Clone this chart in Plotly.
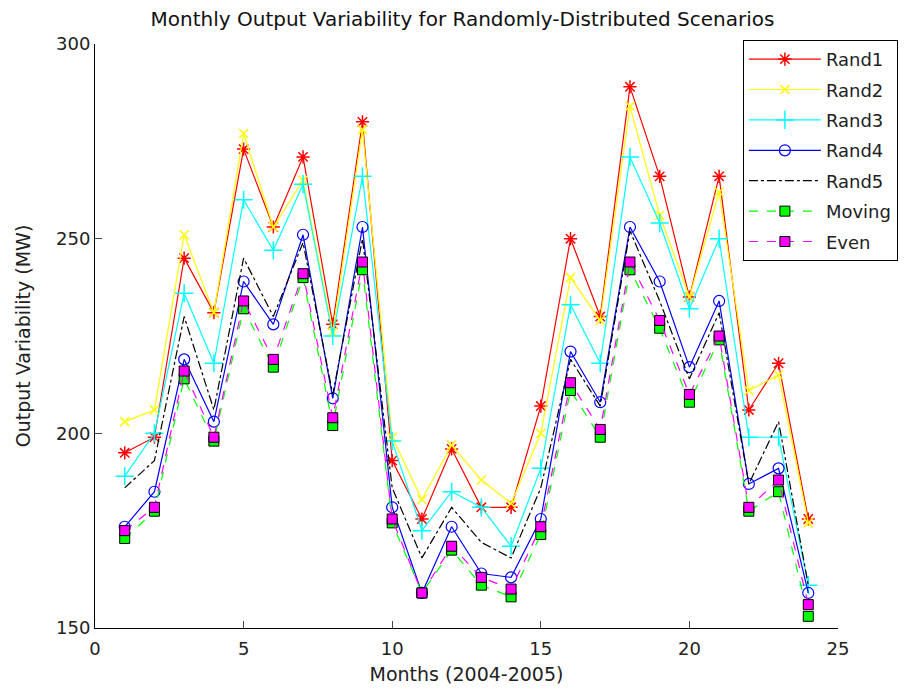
import plotly.graph_objects as go

months = list(range(1, 25))
rand1 = [195, 199, 245, 231, 273, 253, 271, 228, 280, 193, 178, 196, 181, 181, 207, 250, 230, 289, 266, 235, 266, 206, 218, 178]
rand2 = [203, 206, 251, 231, 277, 253, 265, 226, 278, 199, 183, 197, 188, 182, 200, 240, 229, 284, 256, 235, 262, 211, 215, 177]
rand3 = [189, 200, 236, 218, 260, 247, 264, 225, 266, 198, 175, 185, 181, 171, 191, 233, 218, 271, 254, 232, 250, 199, 199, 161]
rand4 = [176, 185, 219, 203, 239, 228, 251, 209, 253, 181, 159, 176, 164, 163, 178, 221, 208, 253, 239, 217, 234, 187, 191, 159]
rand5 = [186, 193, 230, 206, 245, 230, 249, 210, 250, 186, 168, 181, 172, 168, 186, 219, 207, 252, 234, 214, 231, 187, 203, 161]
moving = [173, 180, 214, 198, 232, 217, 240, 202, 242, 177, 159, 170, 161, 158, 174, 211, 199, 242, 227, 208, 224, 180, 185, 153]
even = [175, 181, 216, 199, 234, 219, 241, 204, 244, 178, 159, 171, 163, 160, 176, 213, 201, 244, 229, 210, 225, 181, 188, 156]

series = [
    ("Rand1", rand1, "#ff0000", "solid", dict(symbol="asterisk-open", size=11, color="#ff0000", line=dict(color="#ff0000", width=1.5))),
    ("Rand2", rand2, "#ffff00", "solid", dict(symbol="x-thin-open", size=9, color="#ffff00", line=dict(color="#ffff00", width=1.5))),
    ("Rand3", rand3, "#00ffff", "solid", dict(symbol="cross-thin-open", size=13, color="#00ffff", line=dict(color="#00ffff", width=1.5))),
    ("Rand4", rand4, "#0000ff", "solid", dict(symbol="circle-open", size=11, color="#0000ff", line=dict(color="#0000ff", width=1.2))),
    ("Rand5", rand5, "#000000", "dashdot", None),
    ("Moving", moving, "#00ff00", "dash", dict(symbol="square", size=10, color="#00ff00", line=dict(color="#000000", width=1))),
    ("Even", even, "#ff00ff", "dash", dict(symbol="square", size=10, color="#ff00ff", line=dict(color="#000000", width=1))),
]

fig = go.Figure()
for name, vals, color, dash, marker in series:
    kw = {}
    if marker is not None:
        kw["marker"] = marker
        mode = "lines+markers"
    else:
        mode = "lines"
    fig.add_trace(go.Scatter(x=months, y=vals, name=name, mode=mode, legendgroup=name,
                             line=dict(color=color, width=1.2, dash=dash), **kw))

font = "DejaVu Sans, Liberation Sans, Arial, sans-serif"
fig.update_layout(
    width=909, height=694,
    margin=dict(l=87, r=79, t=36, b=74, autoexpand=False),
    paper_bgcolor="white", plot_bgcolor="white",
    title=dict(text="Monthly Output Variability for Randomly-Distributed Scenarios",
               x=0.5, xanchor="center", y=1.0, yanchor="top", yref="container",
               pad=dict(t=4, b=0),
               font=dict(family=font, size=20, color="#111")),
    font=dict(family=font, size=18, color="#222"),
    xaxis=dict(range=[0, 25], tickvals=[0, 5, 10, 15, 20, 25], ticks="inside", ticklen=7,
               showline=True, linecolor="black", linewidth=1, showgrid=False, zeroline=False,
               ticklabelstandoff=4,
               title=dict(text="Months (2004-2005)", font=dict(size=19), standoff=10),
               tickfont=dict(size=18)),
    yaxis=dict(range=[150, 300], tickvals=[150, 200, 250, 300], ticks="inside", ticklen=7,
               showline=True, linecolor="black", linewidth=1, showgrid=False, zeroline=False,
               title=dict(text="Output Variability (MW)", font=dict(size=19), standoff=20),
               tickfont=dict(size=18)),
    legend=dict(x=0.872, y=1.007, xanchor="left", yanchor="top",
                bordercolor="black", borderwidth=1, bgcolor="white",
                font=dict(size=18), itemwidth=72, tracegroupgap=4),
    showlegend=True,
)

fig.write_html("out.html")
